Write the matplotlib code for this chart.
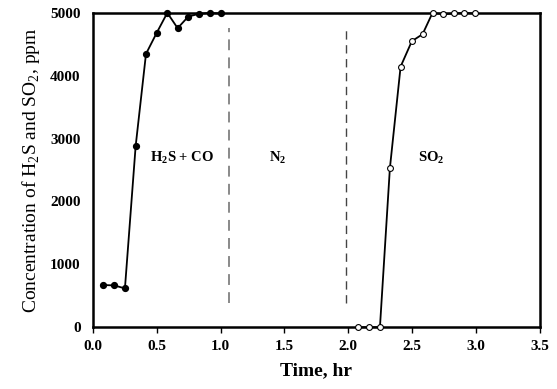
import numpy as np
import matplotlib
matplotlib.use("Agg")
import matplotlib.pyplot as plt

plt.rcParams['font.family'] = ['Liberation Serif', 'DejaVu Serif']
plt.rcParams['mathtext.fontset'] = 'custom'
plt.rcParams['mathtext.rm'] = 'Liberation Serif'
plt.rcParams['mathtext.bf'] = 'Liberation Serif:bold'

# H2S breakthrough (filled markers)
t_h2s = [0.08, 0.167, 0.25, 0.334, 0.415, 0.499, 0.582, 0.663, 0.746, 0.83, 0.914, 1.0]
c_h2s = [670, 664, 616, 2880, 4347, 4682, 5000, 4756, 4940, 4984, 5000, 4990]

# SO2 (open markers)
t_so2 = [2.08, 2.164, 2.248, 2.326, 2.41, 2.498, 2.582, 2.66, 2.743, 2.827, 2.91, 2.994]
c_so2 = [0, 0, 0, 2530, 4145, 4549, 4660, 5000, 4978, 4990, 5000, 4990]

# phase switch times
switch = [1.065, 1.98]
labels = [(0.7, r'H$_\mathbf{2}$S + CO'), (1.45, r'N$_\mathbf{2}$'), (2.65, r'SO$_\mathbf{2}$')]

fig = plt.figure(figsize=(5.57, 3.89), dpi=100)
ax = fig.add_axes([0.167, 0.159, 0.802, 0.808])

ax.plot(t_h2s, c_h2s, '-o', color='black', lw=1.3, ms=4.2, mfc='black', clip_on=False, zorder=3)
ax.plot(t_so2, c_so2, '-o', color='black', lw=1.3, ms=4.2, mfc='white', mew=0.8, clip_on=False, zorder=3)

ax.vlines(switch[0], 390, 4760, colors='gray', linestyles=(0, (6, 4)), lw=1.3)
ax.vlines(switch[1], 390, 4760, colors='#444444', linestyles=(0, (6, 4)), lw=1.0)

for x, s in labels:
    ax.text(x, 2700, s, ha='center', va='center', fontsize=10.5, fontweight='bold')

ax.set_xlim(0, 3.5)
ax.set_ylim(0, 5000)
ax.set_xticks(np.arange(0, 3.51, 0.5))
ax.set_yticks(np.arange(0, 5001, 1000))
ax.set_xticklabels([f'{v:.1f}' for v in np.arange(0, 3.51, 0.5)])
for lab in ax.get_xticklabels() + ax.get_yticklabels():
    lab.set_fontweight('bold')
    lab.set_fontsize(11)
ax.tick_params(axis='x', direction='out', length=4, width=1, pad=5)
ax.tick_params(axis='y', length=0, pad=9)
for sp in ax.spines.values():
    sp.set_linewidth(1.8)

ax.set_xlabel('Time, hr', fontsize=14, fontweight='bold', labelpad=7)
ax.set_ylabel(r'Concentration of H$_2$S and SO$_2$, ppm', fontsize=14, labelpad=6)

fig.savefig('out.png', dpi=100)
